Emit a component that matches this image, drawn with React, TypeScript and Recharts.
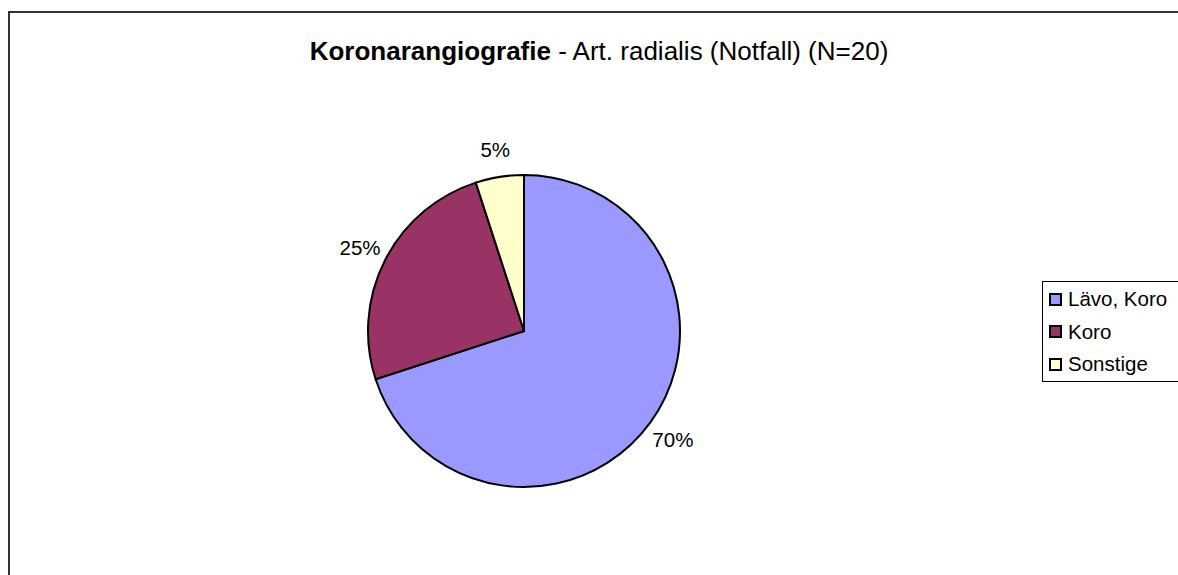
import { PieChart, Pie, Cell, Legend } from "recharts";

// Slice data, clockwise from 12 o'clock
const categories = ["Lävo, Koro", "Koro", "Sonstige"];
const values = [70, 25, 5];
const sliceColors = ["#9999FF", "#993366", "#FFFFCC"];

const TITLE_BOLD = "Koronarangiografie";
const TITLE_REST = " - Art. radialis (Notfall) (N=20)";

const FONT = "'Liberation Sans', Arial, sans-serif";
const RADIAN = Math.PI / 180;

const data = categories.map((name, i) => ({ name, value: values[i] }));
const total = values.reduce((a, b) => a + b, 0);

// percentage label placed just outside the slice
function renderLabel(props: any) {
  const { cx, cy, midAngle, outerRadius, value } = props;
  const r = outerRadius + 28;
  const x = cx + r * Math.cos(-midAngle * RADIAN);
  const y = cy + r * Math.sin(-midAngle * RADIAN);
  return (
    <text
      x={x}
      y={y}
      textAnchor="middle"
      dominantBaseline="central"
      fill="#000"
      style={{ fontFamily: FONT, fontSize: 20.5 }}
    >
      {`${Math.round((value / total) * 100)}%`}
    </text>
  );
}

function LegendBox() {
  return (
    <div
      style={{
        border: "1px solid #000",
        background: "#fff",
        width: 160,
        height: 98,
        paddingTop: 1,
        fontFamily: FONT,
        fontSize: 20.5,
        color: "#000",
      }}
    >
      {categories.map((name, i) => (
        <div
          key={name}
          style={{ height: 32.5, lineHeight: "32.5px", display: "flex", alignItems: "center" }}
        >
          <span
            style={{
              display: "inline-block",
              width: 9,
              height: 9,
              border: "2px solid #000",
              background: sliceColors[i],
              marginLeft: 6,
              marginRight: 6,
            }}
          />
          <span>{name}</span>
        </div>
      ))}
    </div>
  );
}

export default function App() {
  return (
    <div
      style={{
        position: "absolute",
        left: 0,
        top: 0,
        width: 1178,
        height: 575,
        overflow: "hidden",
        background: "#fff",
      }}
    >
      <div
        style={{
          position: "absolute",
          left: 8,
          top: 11,
          width: 1200,
          height: 600,
          border: "2px solid #333",
          boxSizing: "border-box",
        }}
      />
      <div
        style={{
          position: "absolute",
          left: 0,
          top: 38,
          width: 1198,
          textAlign: "center",
          fontFamily: FONT,
          fontSize: 26,
          lineHeight: "26px",
          color: "#000",
          whiteSpace: "nowrap",
        }}
      >
        <b>{TITLE_BOLD}</b>
        {TITLE_REST}
      </div>
      <div style={{ position: "absolute", left: 0, top: 0 }}>
        <PieChart width={1178} height={575} margin={{ top: 0, right: 0, bottom: 0, left: 0 }}>
          <Pie
            data={data}
            dataKey="value"
            nameKey="name"
            cx={524}
            cy={331}
            outerRadius={156}
            startAngle={90}
            endAngle={-270}
            stroke="#000"
            strokeWidth={2}
            label={renderLabel}
            labelLine={false}
            isAnimationActive={false}
          >
            {data.map((d, i) => (
              <Cell key={d.name} fill={sliceColors[i]} />
            ))}
          </Pie>
          <Legend
            content={() => <LegendBox />}
            wrapperStyle={{ position: "absolute", left: 1042, top: 281, width: 160 }}
          />
        </PieChart>
      </div>
    </div>
  );
}
